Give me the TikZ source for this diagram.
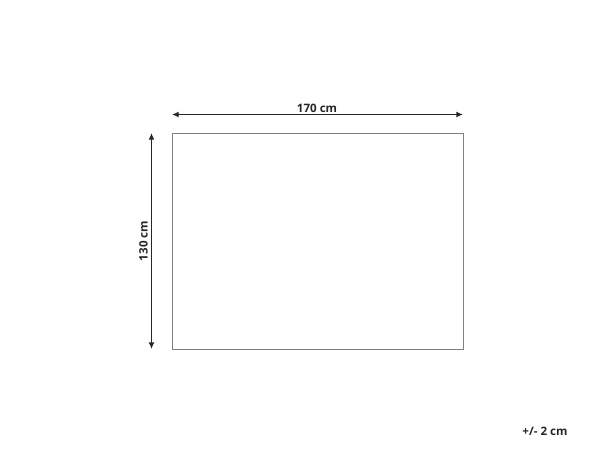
\documentclass[tikz,border=0pt]{standalone}
\usepackage{fontspec}
\setmainfont{Open Sans}
\usetikzlibrary{arrows.meta}
\begin{document}
\begin{tikzpicture}[x=0.75pt,y=-0.75pt,
  dim/.style={draw=black!85,line width=1.2pt,{Latex[length=5pt,width=4.5pt]}-{Latex[length=5pt,width=4.5pt]}},
  lbl/.style={font=\fontsize{8.7}{10}\selectfont\bfseries,text=black!85,inner sep=0pt}]
\useasboundingbox (0,0) rectangle (600,450);
\node[draw=black!50,line width=0.8pt,minimum width=291*0.75pt,minimum height=216*0.75pt,inner sep=0pt,anchor=north west] (rug) at (172,133) {};
\coordinate (tl) at (172,114.5);
\coordinate (tr) at (463,114.5);
\coordinate (lt) at (151.5,133);
\coordinate (lb) at (151.5,349);
\draw[dim] (tl) -- (tr);
\draw[dim] (lt) -- (lb);
\node[lbl] (w) at (317,108) {170 cm};
\node[lbl,rotate=90] (h) at (143.5,241) {130 cm};
\node[lbl] (tol) at (545,431) {+/- 2 cm};
\end{tikzpicture}
\end{document}
